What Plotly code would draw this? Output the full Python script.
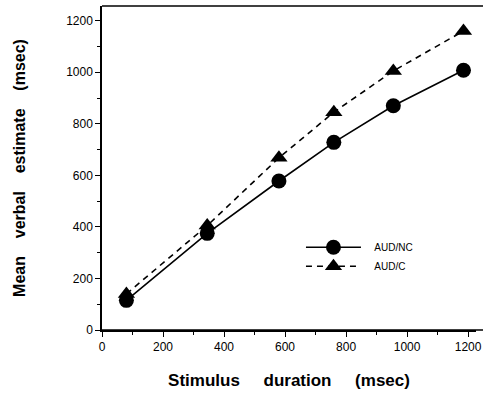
import plotly.graph_objects as go

durations = [80, 345, 580, 760, 955, 1185]
aud_nc = [115, 375, 578, 728, 870, 1008]
aud_c = [140, 405, 668, 845, 1005, 1160]
x_ticks = [0, 200, 400, 600, 800, 1000, 1200]
y_ticks = [0, 200, 400, 600, 800, 1000, 1200]

pad = "\u00a0\u00a0\u00a0"
fig = go.Figure()
fig.add_trace(go.Scatter(
    x=durations, y=aud_nc, name=pad + "AUD/NC", mode="lines+markers",
    line=dict(color="black", width=1.6),
    marker=dict(symbol="circle", size=15, color="black")))
fig.add_trace(go.Scatter(
    x=durations, y=aud_c, name=pad + "AUD/C", mode="lines+markers",
    line=dict(color="black", width=1.6, dash="6px,5px"),
    marker=dict(symbol="triangle-up", size=15, color="black")))

FONT = "Liberation Sans, Arial, sans-serif"
axis_font = dict(family=FONT, size=12, color="black")
sp_y = "\u00a0" * 4
sp_x = "\u00a0" * 5
fig.update_layout(
    width=483, height=401,
    margin=dict(l=102, r=7, t=6, b=71),
    paper_bgcolor="white", plot_bgcolor="white",
    showlegend=True,
    legend=dict(x=0.532, y=0.30, xanchor="left", yanchor="top",
                font=dict(family=FONT, size=10, color="black"),
                bgcolor="rgba(0,0,0,0)", itemwidth=55, tracegroupgap=0),
    xaxis=dict(range=[0, 1226], tickvals=x_ticks, ticktext=[str(v) for v in x_ticks],
               automargin=False,
               showgrid=False, zeroline=False, showline=True, linecolor="black", linewidth=1.5,
               ticks="outside", ticklen=5, tickwidth=1.2, tickcolor="black",
               tickfont=axis_font,
               minor=dict(dtick=100, ticks="outside", ticklen=3, tickcolor="black", showgrid=False),
               title=dict(text="<b>Stimulus" + sp_x + "duration" + sp_x + "(msec)</b>",
                          font=dict(family=FONT, size=17, color="black"), standoff=21)),
    yaxis=dict(range=[0, 1257], tickvals=y_ticks, ticktext=[str(v) for v in y_ticks],
               automargin=False,
               showgrid=False, zeroline=False, showline=True, linecolor="black", linewidth=1.5,
               ticks="outside", ticklen=5, tickwidth=1.2, tickcolor="black",
               tickfont=axis_font,
               minor=dict(dtick=100, ticks="outside", ticklen=3, tickcolor="black", showgrid=False),
               title=dict(text="<b>Mean" + sp_y + "verbal" + sp_y + "estimate" + sp_y + "(msec)</b>",
                          font=dict(family=FONT, size=16, color="black"), standoff=37)),
)
# frame lines continuing to the right edge
for yv in (0, 1):
    fig.add_shape(type="line", xref="paper", yref="paper", x0=0, x1=1.02, y0=yv, y1=yv,
                  line=dict(color="black", width=1.5))

fig.write_html("out.html", config={"displayModeBar": False},
               post_script="document.body.style.margin='0px';")
